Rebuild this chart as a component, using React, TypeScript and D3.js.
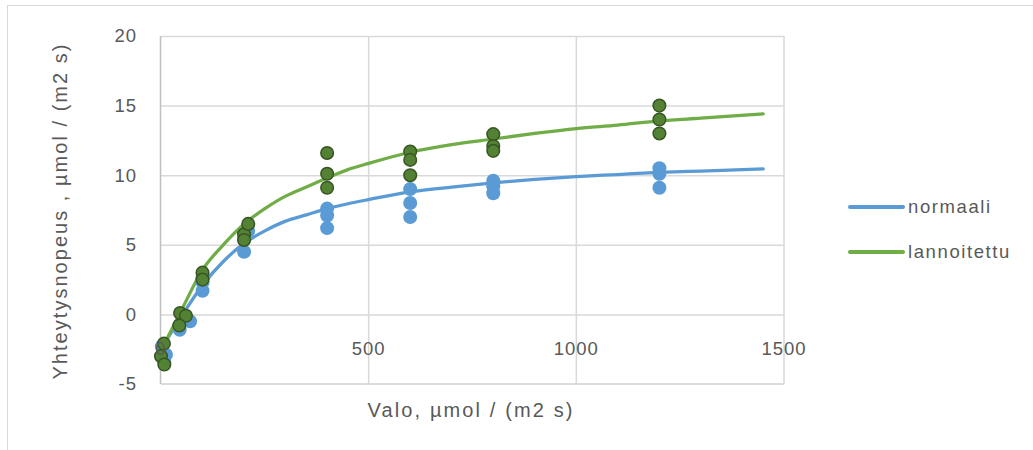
import React from "react";
import * as d3 from "d3";

// Fitted light-response curves (light in µmol/(m2 s), rate in µmol/(m2 s))
const fitLight = [0, 50, 100, 150, 200, 250, 300, 350, 400, 450, 500, 600, 700, 800, 900, 1000, 1100, 1200, 1300, 1450];
const normaaliFit = [-2.5, -0.1, 2.1, 3.8, 5.1, 6.0, 6.7, 7.15, 7.6, 7.95, 8.25, 8.8, 9.15, 9.45, 9.7, 9.9, 10.05, 10.2, 10.3, 10.45];
const lannoitettuFit = [-2.6, 0.35, 3.2, 5.0, 6.5, 7.6, 8.5, 9.15, 9.8, 10.4, 10.85, 11.65, 12.2, 12.6, 13.0, 13.35, 13.6, 13.9, 14.1, 14.4];

// Measured points
const normaaliLight = [2, 12, 8, 45, 70, 60, 100, 100, 100, 200, 200, 210, 400, 400, 400, 600, 600, 600, 800, 800, 800, 1200, 1200, 1200];
const normaaliRate = [-2.3, -2.9, -3.4, -1.1, -0.5, -0.2, 1.7, 2.3, 2.6, 4.5, 5.5, 6.0, 7.6, 7.1, 6.2, 9.0, 8.0, 7.0, 9.6, 9.2, 8.7, 10.5, 10.1, 9.1];
const lannoitettuLight = [7, 0, 8, 46, 60, 44, 100, 100, 200, 210, 200, 400, 400, 400, 600, 600, 600, 800, 800, 800, 1200, 1200, 1200];
const lannoitettuRate = [-2.1, -3.0, -3.6, 0.1, -0.1, -0.8, 3.0, 2.5, 5.75, 6.5, 5.35, 11.6, 10.1, 9.1, 11.7, 11.1, 10.0, 12.95, 12.1, 11.75, 15.0, 14.0, 13.0];

const xTicks = [0, 500, 1000, 1500];
const yTicks = [-5, 0, 5, 10, 15, 20];
const seriesNames = ["normaali", "lannoitettu"];

const BLUE = "#5B9BD5";
const GREEN_LINE = "#70AD47";
const GREEN_FILL = "#548235";
const GREEN_STROKE = "#375623";
const TEXT = "#595959";
const FONT = "'Liberation Sans', Arial, sans-serif";

export default function App() {
  const x = d3.scaleLinear().domain([0, 1500]).range([161, 784]);
  const y = d3.scaleLinear().domain([-5, 20]).range([384, 36]);

  const line = d3
    .line<[number, number]>()
    .x((d) => x(d[0]))
    .y((d) => y(d[1]))
    .curve(d3.curveMonotoneX);

  const normaaliPath = line(fitLight.map((l, i) => [l, normaaliFit[i]]))!;
  const lannoitettuPath = line(fitLight.map((l, i) => [l, lannoitettuFit[i]]))!;

  return (
    <svg
      width={1033}
      height={450}
      style={{ position: "absolute", left: 0, top: 0, display: "block", background: "#fff" }}
      fontFamily={FONT}
    >
      <rect x={7.5} y={5.5} width={1040} height={460} fill="#fff" stroke="#d9d9d9" strokeWidth={1} />

      {/* horizontal gridlines */}
      {yTicks.filter((t) => t !== -5).map((t) => (
        <line key={"gy" + t} x1={x(0)} x2={x(1500)} y1={y(t) + 0.5} y2={y(t) + 0.5} stroke="#d9d9d9" strokeWidth={1.5} />
      ))}
      {/* vertical gridlines */}
      {xTicks.filter((t) => t !== 0).map((t) => (
        <line key={"gx" + t} x1={x(t)} x2={x(t)} y1={y(20)} y2={y(-5)} stroke="#d9d9d9" strokeWidth={1.5} />
      ))}
      {/* axes */}
      <line x1={x(0)} x2={x(1500)} y1={y(-5)} y2={y(-5)} stroke="#d0d0d0" strokeWidth={1.5} />
      <line x1={x(0) - 0.5} x2={x(0) - 0.5} y1={y(20)} y2={y(-5)} stroke="#bfbfbf" strokeWidth={1.5} />

      {/* fitted curves */}
      <path d={normaaliPath} fill="none" stroke={BLUE} strokeWidth={3.25} strokeLinecap="round" strokeLinejoin="round" />
      <path d={lannoitettuPath} fill="none" stroke={GREEN_LINE} strokeWidth={3.25} strokeLinecap="round" strokeLinejoin="round" />

      {/* measured points */}
      {normaaliLight.map((l, i) => (
        <circle key={"n" + i} cx={x(l)} cy={y(normaaliRate[i])} r={7} fill={BLUE} />
      ))}
      {lannoitettuLight.map((l, i) => (
        <circle key={"l" + i} cx={x(l)} cy={y(lannoitettuRate[i])} r={6.3} fill={GREEN_FILL} stroke={GREEN_STROKE} strokeWidth={1.5} />
      ))}

      {/* y tick labels */}
      {yTicks.map((t) => (
        <text key={"ty" + t} x={137} y={y(t)} dy="0.35em" textAnchor="end" fontSize={18.5} fill={TEXT} letterSpacing={1}>
          {t}
        </text>
      ))}
      {/* x tick labels */}
      {xTicks.map((t) => (
        <text key={"tx" + t} x={x(t)} y={355} textAnchor="middle" fontSize={18.5} fill={TEXT} letterSpacing={1}>
          {t}
        </text>
      ))}

      {/* axis titles */}
      <text
        transform={`translate(60,212) rotate(-90)`}
        textAnchor="middle"
        dy="0.35em"
        fontSize={20}
        fill={TEXT}
        textLength={335}
        lengthAdjust="spacing"
      >
        Yhteytysnopeus , µmol / (m2 s)
      </text>
      <text x={470} y={417} textAnchor="middle" fontSize={20} fill={TEXT} textLength={205} lengthAdjust="spacing">
        Valo, µmol / (m2 s)
      </text>

      {/* legend */}
      {seriesNames.map((name, i) => (
        <g key={name}>
          <line
            x1={850}
            x2={903}
            y1={207 + i * 45}
            y2={207 + i * 45}
            stroke={i === 0 ? BLUE : GREEN_LINE}
            strokeWidth={4}
            strokeLinecap="round"
          />
          <text x={908} y={207 + i * 45} dy="0.35em" fontSize={18.5} fill={TEXT} letterSpacing={1.6}>
            {name}
          </text>
        </g>
      ))}
    </svg>
  );
}
